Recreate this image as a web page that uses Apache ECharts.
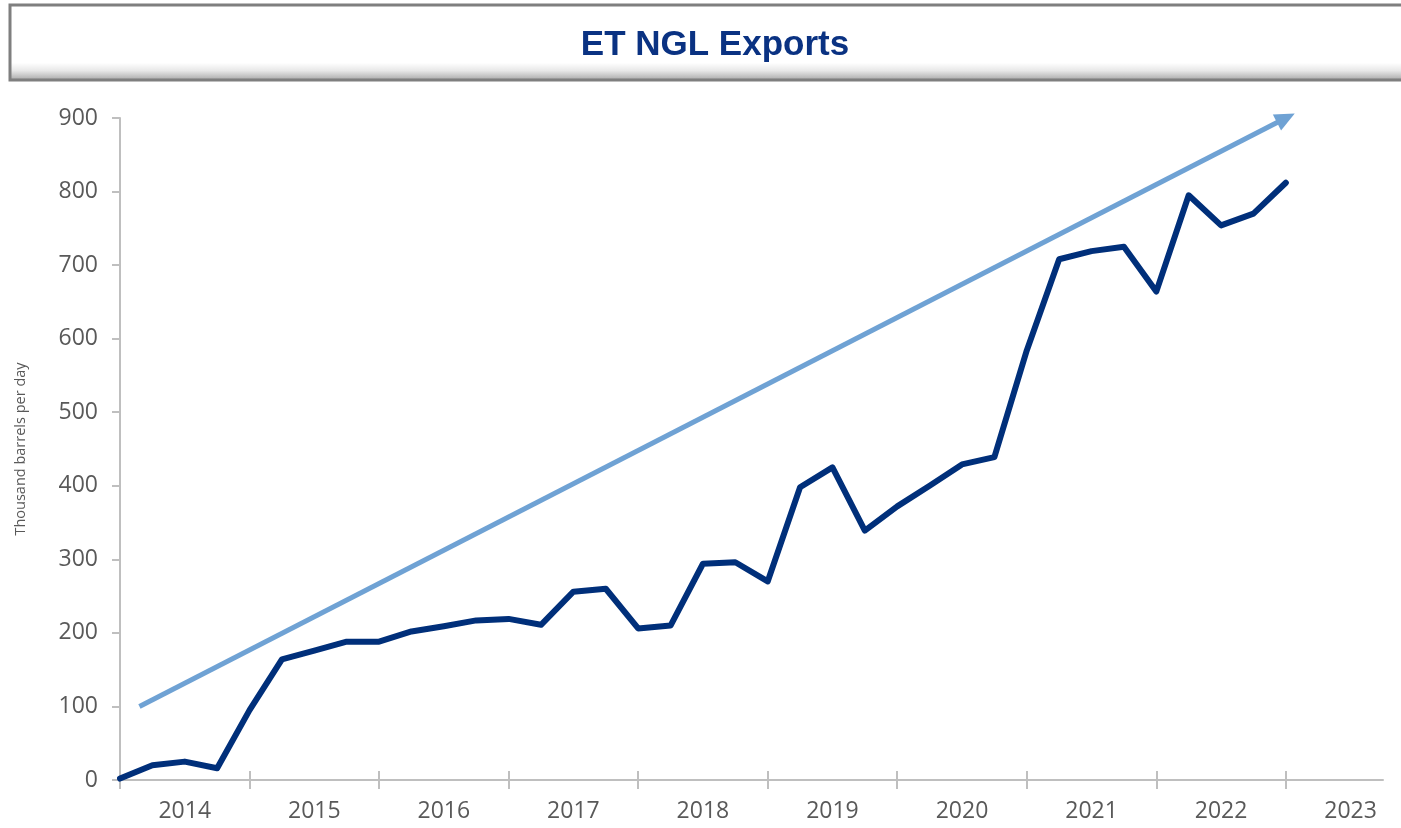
<!DOCTYPE html>
<html>
<head>
<meta charset="utf-8">
<title>ET NGL Exports</title>
<script src="https://cdn.jsdelivr.net/npm/echarts@6/dist/echarts.min.js"></script>
<style>
  html, body { margin: 0; padding: 0; background: #fff; }
  #chart { width: 1401px; height: 828px; }
</style>
</head>
<body>
<div id="chart"></div>
<script>
// quarterly exports, thousand barrels per day, 2014 Q1 .. 2023 Q1
let years   = ['2014','2015','2016','2017','2018','2019','2020','2021','2022','2023'];
let exports = [2, 20, 25, 16, 95, 164, 176, 188, 188, 202, 209, 217, 219, 211, 256, 260,
               206, 210, 294, 296, 270, 398, 425, 339, 372, 400, 429, 439, 584, 708,
               719, 725, 664, 795, 754, 770, 812];
// trend arrow end points: [quarter index, value]
let trendStart = [0.6, 100];
let trendEnd   = [36.0, 900];

let yTicks = [0, 100, 200, 300, 400, 500, 600, 700, 800, 900];

let quarterCount = years.length * 4;             // 40 quarter slots on the axis
let yearTicks  = years.map((y, i) => i * 4);     // tick at start of each year
let yearLabels = years.map((y, i) => i * 4 + 2); // label in middle of the year

let lineData = exports.map((v, i) => [i, v]);

let axisGrey  = '#bfbfbf';
let textGrey  = '#595959';
let navy      = '#002f7a';
let trendBlue = '#6fa2d4';

let chart = echarts.init(document.getElementById('chart'), null, { renderer: 'canvas' });

let gridBox = { left: 120, right: 18, top: 118, bottom: 48 };

function trendSeries(rotate) {
    return {
        name: 'Trend',
        type: 'line',
        xAxisIndex: 0,
        yAxisIndex: 0,
        silent: true,
        lineStyle: { color: trendBlue, width: 5 },
        itemStyle: { color: trendBlue },
        symbolSize: [18, 20],
        data: [
            { value: trendStart, symbol: 'none' },
            { value: trendEnd, symbol: 'triangle', symbolRotate: rotate }
        ],
        z: 2
    };
}

let option = {
    animation: false,
    backgroundColor: '#fff',
    graphic: [
        {   // title box with a bevelled bottom edge
            type: 'rect',
            shape: { x: 10, y: 5, width: 1420, height: 75 },
            style: {
                fill: {
                    type: 'linear', x: 0, y: 0, x2: 0, y2: 1,
                    colorStops: [
                        { offset: 0,    color: '#ffffff' },
                        { offset: 0.76, color: '#ffffff' },
                        { offset: 0.86, color: '#e8e8e8' },
                        { offset: 1,    color: '#a0a0a0' }
                    ]
                },
                stroke: '#7f7f7f',
                lineWidth: 3
            }
        },
        {
            type: 'text',
            x: 715, y: 45,
            style: {
                text: 'ET NGL Exports',
                font: 'bold 35px "Liberation Sans", Arial, sans-serif',
                fill: '#0a3282',
                align: 'center',
                verticalAlign: 'middle'
            }
        }
    ],
    grid: [
        Object.assign({ containLabel: false }, gridBox),
        Object.assign({ containLabel: false }, gridBox)
    ],
    xAxis: [
        {
            type: 'value',
            gridIndex: 0,
            min: 0,
            max: quarterCount - 1,
            splitLine: { show: false },
            axisLine: { show: true, lineStyle: { color: axisGrey, width: 2 } },
            axisTick: {
                show: true, length: 9, customValues: yearTicks,
                lineStyle: { color: axisGrey, width: 2 }
            },
            axisLabel: {
                customValues: yearLabels,
                formatter: v => years[Math.floor(v / 4)],
                color: textGrey,
                fontFamily: 'Open Sans',
                fontSize: 23,
                margin: 20
            }
        },
        {   // same scale, ticks pointing up so they cross the axis line
            type: 'value',
            gridIndex: 1,
            min: 0,
            max: quarterCount - 1,
            splitLine: { show: false },
            axisLine: { show: false },
            axisTick: {
                show: true, inside: true, length: 9, customValues: yearTicks,
                lineStyle: { color: axisGrey, width: 2 }
            },
            axisLabel: { show: false }
        }
    ],
    yAxis: [
        {
            type: 'value',
            gridIndex: 0,
            min: 0,
            max: 900,
            interval: 100,
            name: 'Thousand barrels per day',
            nameLocation: 'middle',
            nameGap: 92,
            nameRotate: 90,
            nameTextStyle: {
                color: textGrey,
                fontFamily: 'Open Sans',
                fontSize: 14.5
            },
            splitLine: { show: false },
            axisLine: { show: true, lineStyle: { color: axisGrey, width: 2 } },
            axisTick: { show: true, length: 8, lineStyle: { color: axisGrey, width: 2 } },
            axisLabel: {
                color: textGrey,
                fontFamily: 'Open Sans',
                fontSize: 23,
                margin: 22,
                customValues: yTicks
            }
        },
        {
            type: 'value',
            gridIndex: 1,
            min: 0,
            max: 900,
            show: false
        }
    ],
    series: [
        trendSeries(0),
        {
            name: 'ET NGL Exports',
            type: 'line',
            xAxisIndex: 0,
            yAxisIndex: 0,
            data: lineData,
            showSymbol: false,
            lineStyle: { color: navy, width: 6, join: 'round', cap: 'round' },
            z: 3
        }
    ]
};

chart.setOption(option);

// point the arrow head along the trend line, in pixel space
let p0 = chart.convertToPixel({ gridIndex: 0 }, trendStart);
let p1 = chart.convertToPixel({ gridIndex: 0 }, trendEnd);
let angle = Math.atan2(p0[1] - p1[1], p1[0] - p0[0]) * 180 / Math.PI; // from +x, ccw
chart.setOption({ series: [trendSeries(angle - 90)] });
</script>
</body>
</html>
